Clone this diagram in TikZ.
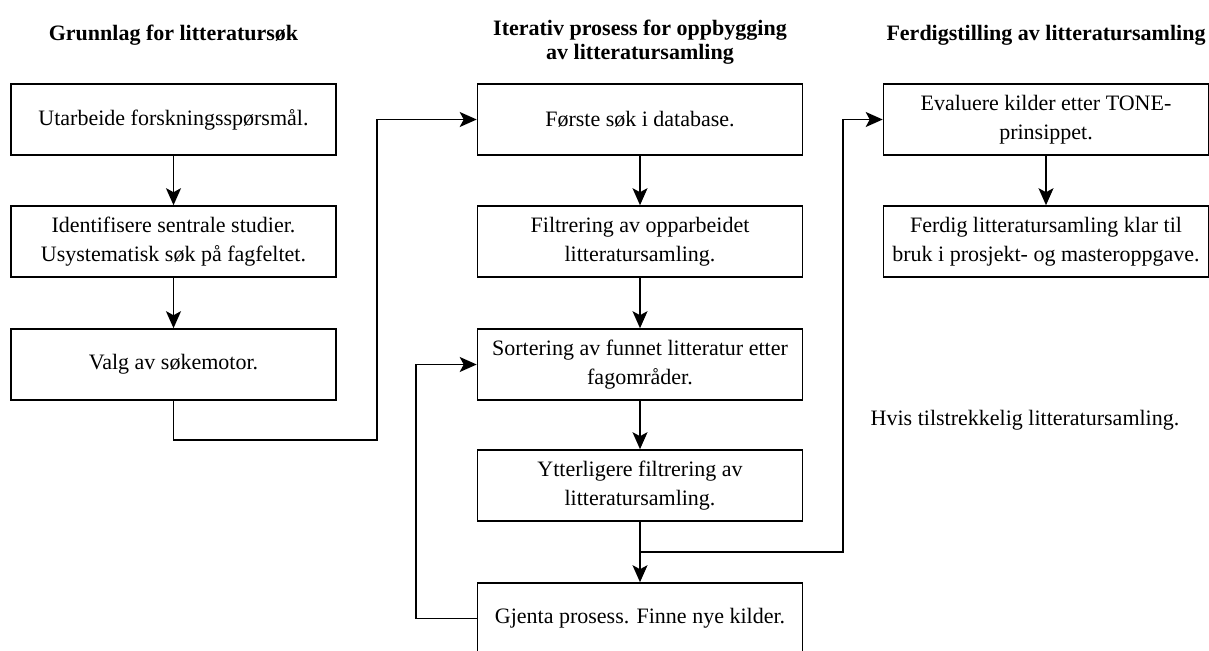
\documentclass[tikz,border=0pt]{standalone}
\usepackage{fontspec}
\setmainfont{Liberation Serif}
\usetikzlibrary{arrows.meta}

\begin{document}
\begin{tikzpicture}[x=1pt, y=-1pt,
  stepbox/.style={draw, line width=1.6pt, rectangle, minimum width=325pt,
    minimum height=71pt, inner sep=4pt, align=center,
    font=\fontsize{22}{29}\selectfont},
  heading/.style={align=center, font=\fontsize{22}{24}\selectfont\bfseries},
  plain/.style={font=\fontsize{22}{29}\selectfont},
  arr/.style={line width=1.6pt, -{Stealth[length=17pt, width=15pt, inset=4pt]}}]

\useasboundingbox (0,0) rectangle (1209,650);
\clip (0,0) rectangle (1209,650);

% column headings
\node[heading, anchor=base] (h1) at (173.5,41) {Grunnlag for litteratursøk};
\node[heading] (h2) at (640,42) {Iterativ prosess for oppbygging\\av litteratursamling};
\node[heading, anchor=base] (h3) at (1046,41) {Ferdigstilling av litteratursamling};

% left column
\node[stepbox] (utarb) at (173.5,119.5) {Utarbeide forskningsspørsmål.};
\node[stepbox] (ident) at (173.5,241.5) {Identifisere sentrale studier.\\Usystematisk søk på fagfeltet.};
\node[stepbox] (valg)  at (173.5,364.5) {Valg av søkemotor.};

% middle column
\node[stepbox] (forste) at (640,119.5) {Første søk i database.};
\node[stepbox] (filt)   at (640,241.5) {Filtrering av opparbeidet\\litteratursamling.};
\node[stepbox] (sort)   at (640,364.5) {Sortering av funnet litteratur etter\\fagområder.};
\node[stepbox] (ytter)  at (640,485.5) {Ytterligere filtrering av\\litteratursamling.};
\node[stepbox] (gjenta) at (640,618.5) {Gjenta prosess. Finne nye kilder.};

% right column
\node[stepbox] (eval)  at (1046,119.5) {Evaluere kilder etter TONE-\\prinsippet.};
\node[stepbox] (ferdig) at (1046,241.5) {Ferdig litteratursamling klar til\\bruk i prosjekt- og masteroppgave.};

\node[plain] (hvis) at (1025,420) {Hvis tilstrekkelig litteratursamling.};

% routing points
\coordinate (j1) at (377,440);
\coordinate (split) at (640,552);
\coordinate (j3) at (843,552);

% connectors
\draw[arr] (utarb) -- (ident);
\draw[arr] (ident) -- (valg);
\draw[arr] (valg.south) |- (j1) |- (forste.west);
\draw[arr] (forste) -- (filt);
\draw[arr] (filt) -- (sort);
\draw[arr] (sort) -- (ytter);
\draw[arr] (ytter) -- (gjenta);
\draw[arr] (gjenta.west) -- ++(-61,0) |- (sort.west);
\draw[arr] (split) -- (j3) |- (eval.west);
\draw[arr] (eval) -- (ferdig);

\end{tikzpicture}
\end{document}
